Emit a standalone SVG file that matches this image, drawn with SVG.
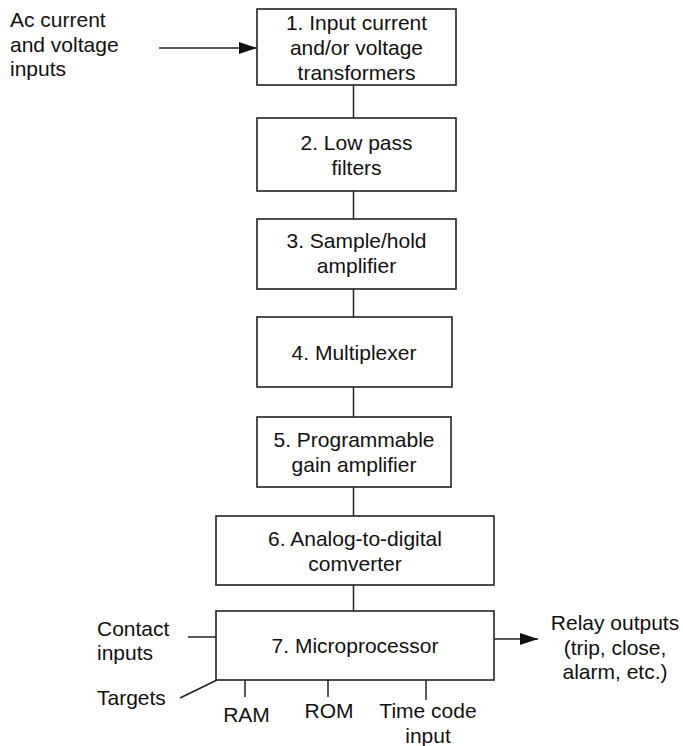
<svg xmlns="http://www.w3.org/2000/svg" width="683" height="746" viewBox="0 0 683 746">
<style>
text { font-family: "Liberation Sans", Arial, sans-serif; font-size: 21px; fill: #111; }
.c { text-anchor: middle; }
.box { fill: #fff; stroke: #222; stroke-width: 1.6; }
.ln { stroke: #222; stroke-width: 1.5; fill: none; }
</style>
<defs>
<marker id="ah" viewBox="0 0 18 12" refX="18" refY="6" markerWidth="18" markerHeight="12" markerUnits="userSpaceOnUse" orient="auto">
<path d="M0,0 L18,6 L0,12 Z" fill="#111"/>
</marker>
</defs>
<g id="connectors">
<line class="ln" x1="159" y1="48" x2="257" y2="48" marker-end="url(#ah)"/>
<line class="ln" x1="353.5" y1="85" x2="353.5" y2="118"/>
<line class="ln" x1="353.5" y1="191" x2="353.5" y2="219"/>
<line class="ln" x1="353.5" y1="289" x2="353.5" y2="317"/>
<line class="ln" x1="353.5" y1="387" x2="353.5" y2="417"/>
<line class="ln" x1="353.5" y1="487" x2="353.5" y2="516"/>
<line class="ln" x1="353.5" y1="585" x2="353.5" y2="611"/>
<line class="ln" x1="188" y1="637" x2="217" y2="637"/>
<line class="ln" x1="180" y1="698" x2="217" y2="680"/>
<line class="ln" x1="245" y1="680" x2="245" y2="697"/>
<line class="ln" x1="328" y1="680" x2="328" y2="697"/>
<line class="ln" x1="426" y1="680" x2="426" y2="700"/>
<line class="ln" x1="494" y1="639" x2="538" y2="639" marker-end="url(#ah)"/>
</g>
<g id="label-ac">
<text x="10" y="27">Ac current</text>
<text x="10" y="51.5">and voltage</text>
<text x="10" y="76">inputs</text>
</g>
<g id="n1">
<rect class="box" x="257" y="9" width="199" height="76"/>
<text class="c" x="356.5" y="30">1. Input current</text>
<text class="c" x="356.5" y="55">and/or voltage</text>
<text class="c" x="356.5" y="80">transformers</text>
</g>
<g id="n2">
<rect class="box" x="257" y="118" width="199" height="73"/>
<text class="c" x="356.5" y="150">2. Low pass</text>
<text class="c" x="356.5" y="175">filters</text>
</g>
<g id="n3">
<rect class="box" x="257" y="219" width="199" height="70"/>
<text class="c" x="356.5" y="248">3. Sample/hold</text>
<text class="c" x="356.5" y="273">amplifier</text>
</g>
<g id="n4">
<rect class="box" x="257" y="317" width="195" height="70"/>
<text class="c" x="354" y="360">4. Multiplexer</text>
</g>
<g id="n5">
<rect class="box" x="257" y="417" width="194" height="70"/>
<text class="c" x="354" y="447">5. Programmable</text>
<text class="c" x="354" y="472">gain amplifier</text>
</g>
<g id="n6">
<rect class="box" x="216" y="516" width="278" height="69"/>
<text class="c" x="355" y="546">6. Analog-to-digital</text>
<text class="c" x="355" y="571">comverter</text>
</g>
<g id="n7">
<rect class="box" x="216" y="611" width="278" height="69"/>
<text class="c" x="355" y="653">7. Microprocessor</text>
</g>
<g id="label-contact">
<text x="97" y="636">Contact</text>
<text x="97" y="660">inputs</text>
</g>
<g id="label-targets">
<text x="97" y="705">Targets</text>
</g>
<g id="label-ram"><text class="c" x="246.5" y="722">RAM</text></g>
<g id="label-rom"><text class="c" x="329" y="718">ROM</text></g>
<g id="label-time">
<text class="c" x="428" y="718">Time code</text>
<text class="c" x="428" y="743">input</text>
</g>
<g id="label-relay">
<text class="c" x="615" y="630">Relay outputs</text>
<text class="c" x="615" y="655">(trip, close,</text>
<text class="c" x="615" y="679">alarm, etc.)</text>
</g>
</svg>
